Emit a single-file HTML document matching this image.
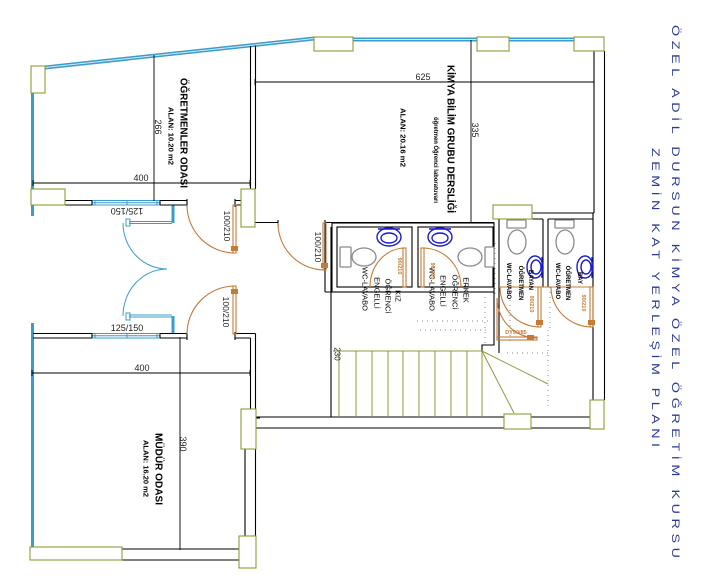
<!DOCTYPE html>
<html><head><meta charset="utf-8"><style>
html,body{margin:0;padding:0;background:#fff;}
svg{display:block}
text{font-family:"Liberation Sans",sans-serif;}
</style></head><body>
<svg width="702" height="582" viewBox="0 0 702 582" xmlns="http://www.w3.org/2000/svg">
<rect width="702" height="582" fill="#fff"/>

<!-- blue windows -->
<g stroke="#3a9ccc" fill="none">
  <line x1="45" y1="67.5" x2="314" y2="38.5" stroke-width="4"/>
  <line x1="353" y1="39.5" x2="477" y2="39.5" stroke-width="4"/>
  <line x1="509" y1="39.5" x2="574" y2="39.5" stroke-width="4"/>
  <line x1="32.5" y1="93" x2="32.5" y2="216" stroke-width="3"/>
  <line x1="32.5" y1="323" x2="32.5" y2="547" stroke-width="3"/>
</g>
<g stroke="#d4ebf6" stroke-width="1" fill="none">
  <line x1="45" y1="67.5" x2="314" y2="38.5"/>
  <line x1="353" y1="39.5" x2="477" y2="39.5"/>
  <line x1="509" y1="39.5" x2="574" y2="39.5"/>
</g>
<!-- 125/150 windows -->
<g stroke="#3a9ccc" stroke-width="1" fill="none">
  <rect x="92" y="200.5" width="68" height="4.5"/>
  <line x1="92" y1="202.8" x2="160" y2="202.8"/>
  <line x1="95" y1="200.5" x2="95" y2="205"/><line x1="127" y1="200.5" x2="127" y2="205"/><line x1="157" y1="200.5" x2="157" y2="205"/>
  <rect x="92" y="333.5" width="68" height="4.5"/>
  <line x1="92" y1="335.8" x2="160" y2="335.8"/>
  <line x1="95" y1="333.5" x2="95" y2="338"/><line x1="127" y1="333.5" x2="127" y2="338"/><line x1="157" y1="333.5" x2="157" y2="338"/>
  <!-- glass double door -->
  <line x1="173" y1="205" x2="173" y2="223" stroke-width="3"/>
  <line x1="173" y1="316" x2="173" y2="334" stroke-width="3"/>
  <line x1="129" y1="221.5" x2="172" y2="221.5"/><line x1="129" y1="223.5" x2="172" y2="223.5"/>
  <line x1="129" y1="315" x2="172" y2="315"/><line x1="129" y1="317" x2="172" y2="317"/>
  <path d="M123,223 A44,46 0 0 0 167,269"/>
  <path d="M167,269 A44,47 0 0 0 123,316"/>
  <rect x="126" y="219" width="4" height="7"/><rect x="126" y="313" width="4" height="7"/>
</g>

<!-- black walls -->
<g stroke="#000" stroke-width="1.1" fill="none">
  <path d="M65,200.5H92M65,205H92M92,200.5V205M160,200.5H187M160,205H187M160,200.5V205M187,199V207"/>
  <path d="M235,200.5H241M235,205H241M235,199V207"/>
  <path d="M250.5,46V189M255.5,45.5V189"/>
  <path d="M255,222.5H278M278,220V226M325,222.5H494M325,220V292M331,227V417M325,292H331"/>
  <path d="M594,51V213M604.5,51V400M532,213H594"/>
  <rect x="332" y="223" width="162" height="69"/>
  <rect x="337" y="227" width="75" height="60"/>
  <rect x="418" y="227" width="75" height="60"/>
  <path d="M499,219V353M543,219V287M548,219V287M593,213V400M494,292V345M482,351V345H494V330"/>
  <path d="M499,219H543M548,219H593"/>
  <path d="M255,417H504M531,417H590M255,428H504M531,428H590"/>
  <path d="M33,333.5H92M33,338H92M92,333.5V338M160,333.5H187M160,338H187M160,333.5V338M187,332V340"/>
  <path d="M235,333.5H255.5M235,338H250.5M235,332V340"/>
  <path d="M250.5,338V409M255.5,333.5V409M245,449V536M255.5,449V536M122,549H239M122,560H239"/>
  <path d="M255.5,418H260"/>
</g>

<!-- dimension lines -->
<g stroke="#000" stroke-width="0.9" fill="none">
  <path d="M33,183H250M33,180V186M250,180V186"/>
  <path d="M154,55V201"/>
  <path d="M255,82H594M255,79V85M594,79V85"/>
  <path d="M471,40V222"/>
  <path d="M32,373H250M32,370V376M250,370V376"/>
  <path d="M180,337V550"/>
</g>

<!-- olive boxes & stair -->
<g stroke="#8e9a3a" stroke-width="1.1" fill="#fff">
  <rect x="31" y="66" width="14" height="27"/>
  <rect x="31" y="189" width="34" height="16"/>
  <rect x="241" y="189" width="14" height="38"/>
  <rect x="314" y="37" width="39" height="14"/>
  <rect x="477" y="37" width="32" height="14"/>
  <rect x="574" y="37" width="30" height="14"/>
  <rect x="493" y="205" width="39" height="14"/>
  <rect x="241" y="409" width="15" height="40"/>
  <rect x="239" y="536" width="17" height="32"/>
  <rect x="30" y="547" width="92" height="13"/>
  <rect x="504" y="414" width="27" height="15"/>
  <rect x="590" y="400" width="14" height="29"/>
</g>
<g stroke="#8e9a3a" stroke-width="1" fill="none">
  <path d="M333,351H482"/>
  <path d="M339,351V417M356,351V417M372,351V417M388,351V417M403,351V417M419,351V417M435,351V417M451,351V417M467,351V417M482,351V417"/>
  <path d="M482,351L548,384M482,351L514,413"/>
</g>

<!-- dotted lines -->
<g stroke="#888" stroke-width="1" stroke-dasharray="1 4" fill="none">
  <path d="M417,321H490M485,297V347M548,330V407M507,353H548M495,243V297M550,287V330M510,300V345M420,330H490"/>
</g>

<!-- doors -->
<g stroke="#c47b36" stroke-width="1.1" fill="none">
  <path d="M187,205 A48,48 0 0 0 235,253"/>
  <rect x="233" y="205" width="3" height="48"/>
  <path d="M187,334 A48,48 0 0 1 235,286"/>
  <rect x="233" y="286" width="3" height="48"/>
  <path d="M278,223 A47,47 0 0 0 325,270"/>
  <rect x="323" y="223" width="3" height="47"/>
  <path d="M405,248 A35,39 0 0 0 370,287"/>
  <rect x="403" y="248" width="3" height="39"/>
  <path d="M423,248 A38,39 0 0 1 461,287"/>
  <rect x="421" y="248" width="3" height="39"/>
  <path d="M500,287 A40,40 0 0 0 540,327"/>
  <rect x="538" y="287" width="3" height="40"/>
  <path d="M551,287 A41,40 0 0 0 592,327"/>
  <rect x="590" y="287" width="3" height="40"/>
  <path d="M497,298 A40,40 0 0 0 537,338"/>
  <rect x="497" y="337" width="40" height="3"/>
  <path d="M497,298V340"/>
  <path d="M499,287H593"/>
</g>
<g fill="#c47b36">
  <rect x="231" y="246" width="7" height="5"/>
  <rect x="231" y="289" width="7" height="5"/>
  <rect x="321" y="263" width="7" height="5"/>
  <rect x="536" y="320" width="7" height="5"/>
  <rect x="588" y="320" width="7" height="5"/>
  <rect x="527" y="335" width="7" height="5"/>
</g>

<!-- toilets -->
<g stroke="#8a8a8a" stroke-width="1.3" fill="#fff">
  <rect x="340" y="247" width="11" height="20" rx="1"/>
  <ellipse cx="364" cy="257" rx="12" ry="9"/>
  <rect x="485" y="247" width="9" height="20" rx="1"/>
  <ellipse cx="470" cy="257" rx="12" ry="9"/>
  <rect x="507" y="220" width="19" height="8" rx="1"/>
  <ellipse cx="517" cy="242" rx="9" ry="12"/>
  <rect x="555" y="220" width="19" height="8" rx="1"/>
  <ellipse cx="565" cy="242" rx="9" ry="12"/>
</g>
<!-- sinks -->
<g stroke="#1c1ccc" stroke-width="1.4" fill="none">
  <ellipse cx="389" cy="237" rx="12" ry="9"/>
  <ellipse cx="389" cy="238" rx="8" ry="5"/>
  <path d="M378,229H400"/>
  <ellipse cx="440" cy="237" rx="12" ry="9"/>
  <ellipse cx="440" cy="238" rx="8" ry="5"/>
  <path d="M429,229H451"/>
  <ellipse cx="535" cy="267" rx="8" ry="11"/>
  <ellipse cx="536" cy="267" rx="5" ry="7"/>
  <path d="M542,257V278"/>
  <ellipse cx="585" cy="267" rx="8" ry="11"/>
  <ellipse cx="586" cy="267" rx="5" ry="7"/>
  <path d="M592,257V278"/>
</g>

<!-- dimension labels -->
<g font-size="9" fill="#222" text-anchor="middle">
  <text x="141" y="181">400</text>
  <text x="142" y="371">400</text>
  <text x="423" y="80">625</text>
  <text transform="translate(127,211) rotate(180)" dominant-baseline="central">125/150</text>
  <text x="127" y="331">125/150</text>
  <text transform="translate(158,127) rotate(90)" dominant-baseline="central">266</text>
  <text transform="translate(475,130) rotate(90)" dominant-baseline="central">335</text>
  <text transform="translate(183,444) rotate(90)" dominant-baseline="central">390</text>
  <text transform="translate(337,354) rotate(90)" dominant-baseline="central" font-size="8">230</text>
  <text transform="translate(227,226) rotate(90)" dominant-baseline="central" font-size="8.5">100/210</text>
  <text transform="translate(226,312) rotate(90)" dominant-baseline="central" font-size="8.5">100/210</text>
  <text transform="translate(318,247) rotate(90)" dominant-baseline="central" font-size="8.5">100/210</text>
</g>

<!-- room labels -->
<g fill="#000" font-weight="bold" text-anchor="middle" dominant-baseline="central">
  <text transform="translate(183,133) rotate(90)" font-size="10" textLength="110" lengthAdjust="spacingAndGlyphs">ÖĞRETMENLER ODASI</text>
  <text transform="translate(170,136) rotate(90)" font-size="7" textLength="58" lengthAdjust="spacingAndGlyphs">ALAN: 10.20 m2</text>
  <text transform="translate(450,139) rotate(90)" font-size="10" textLength="148" lengthAdjust="spacingAndGlyphs">KİMYA BİLİM GRUBU DERSLİĞİ</text>
  <text transform="translate(435,160) rotate(90)" font-size="6" textLength="86" lengthAdjust="spacingAndGlyphs">öğretmen Öğrenci laboratuvarı</text>
  <text transform="translate(402,137.5) rotate(90)" font-size="7" textLength="59" lengthAdjust="spacingAndGlyphs">ALAN: 20.16 m2</text>
  <text transform="translate(158,469) rotate(90)" font-size="10" textLength="72" lengthAdjust="spacingAndGlyphs">MÜDÜR ODASI</text>
  <text transform="translate(145,468.5) rotate(90)" font-size="7" textLength="57" lengthAdjust="spacingAndGlyphs">ALAN: 16.20 m2</text>
</g>

<!-- cubicle labels -->
<g fill="#000" font-size="7.5" text-anchor="middle" dominant-baseline="central">
  <text transform="translate(398,296) rotate(90)">KIZ</text>
  <text transform="translate(388,296) rotate(90)">ÖĞRENCİ</text>
  <text transform="translate(377,293) rotate(90)">ENGELLİ</text>
  <text transform="translate(365,289) rotate(90)">WC-LAVABO</text>
  <text transform="translate(466,290) rotate(90)">ERKEK</text>
  <text transform="translate(455,292) rotate(90)">ÖĞRENCİ</text>
  <text transform="translate(443,291) rotate(90)">ENGELLİ</text>
  <text transform="translate(432,289) rotate(90)">WC-LAVABO</text>
</g>
<g fill="#000" font-size="6" font-weight="bold" text-anchor="middle" dominant-baseline="central">
  <text transform="translate(520,283) rotate(90)">ÖĞRETMEN</text>
  <text transform="translate(508,281) rotate(90)">WC-LAVABO</text>
  <text transform="translate(530,280) rotate(90)">BAYAN</text>
  <text transform="translate(567,283) rotate(90)">ÖĞRETMEN</text>
  <text transform="translate(557,281) rotate(90)">WC-LAVABO</text>
  <text transform="translate(579,278) rotate(90)">BAY</text>
</g>
<g fill="#c47b36" font-size="5.5" font-weight="bold" text-anchor="middle" dominant-baseline="central">
  <text transform="translate(399,266) rotate(90)">90/210</text>
  <text transform="translate(432,271) rotate(90)">90/210</text>
  <text transform="translate(531,304) rotate(90)">90/210</text>
  <text transform="translate(583,303) rotate(90)">90/210</text>
  <text x="516" y="333">DY90/85</text>
</g>

<!-- title -->
<g fill="#2b3a99" font-size="11" text-anchor="middle" dominant-baseline="central">
  <text transform="translate(676,291.5) rotate(90) scale(1.3,1)" textLength="410" lengthAdjust="spacing">ÖZEL ADİL DURSUN KİMYA ÖZEL ÖĞRETİM KURSU</text>
  <text transform="translate(656,297.5) rotate(90) scale(1.3,1)" textLength="230" lengthAdjust="spacing">ZEMİN KAT YERLEŞİM PLANI</text>
</g>
</svg>
</body></html>
